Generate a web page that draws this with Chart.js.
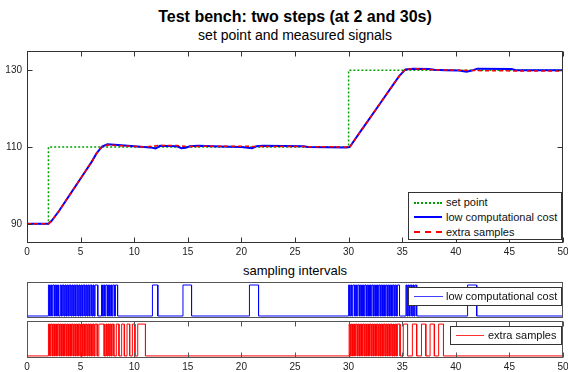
<!DOCTYPE html>
<html>
<head>
<meta charset="utf-8">
<script src="https://cdn.jsdelivr.net/npm/chart.js@4/dist/chart.umd.min.js"></script>
<style>
  body { margin: 0; background: #fff; font-family: "Liberation Sans", Arial, sans-serif; }
  #wrap { position: relative; width: 568px; height: 372px; overflow: hidden; }
  canvas { position: absolute; left: 0; }
  .txt { position: absolute; white-space: nowrap; color: #000; transform: translate(-50%, -50%); }
  .legend { position: absolute; background: #fff; border: 1px solid #333; z-index: 5; }
  .row { position: absolute; left: 0; width: 100%; height: 14px; font-size: 11px; line-height: 14px; white-space: nowrap; }
  .row span { position: absolute; left: 37px; white-space: nowrap; color: #111; }
  .sample { position: absolute; height: 0; }
  .thin { position: absolute; height: 1px; }
</style>
</head>
<body>
<div id="wrap">
  <div class="txt" style="left:295px;top:17px;font-size:16px;font-weight:bold;">Test bench: two steps (at 2 and 30s)</div>
  <div class="txt" style="left:295px;top:35px;font-size:14px;">set point and measured signals</div>
  <div class="txt" style="left:295px;top:270px;font-size:13px;">sampling intervals</div>

  <canvas id="mainChart" width="568" height="220" style="top:40px"></canvas>
  <canvas id="lowChart" width="568" height="46" style="top:276px"></canvas>
  <canvas id="extraChart" width="568" height="56" style="top:316px"></canvas>

  <div class="legend" style="left:408px;top:192px;width:152px;height:46px;">
    <div class="row" style="top:2px"><div class="sample" style="left:5px;top:7px;width:28px;border-top:2px dotted #00a000;"></div><span>set point</span></div>
    <div class="row" style="top:17px"><div class="sample" style="left:5px;top:6px;width:28px;border-top:2px solid #0000ff;"></div><span>low computational cost</span></div>
    <div class="row" style="top:32px"><div class="sample" style="left:5px;top:6px;width:28px;border-top:2px dashed #ff0000;"></div><span>extra samples</span></div>
  </div>
  <div class="legend" style="left:408px;top:287px;width:152px;height:17px;">
    <div class="row" style="top:1px"><div class="thin" style="left:5px;top:7px;width:29px;background:#4040ff;"></div><span>low computational cost</span></div>
  </div>
  <div class="legend" style="left:450px;top:326px;width:110px;height:17px;">
    <div class="row" style="top:1px"><div class="thin" style="left:5px;top:7px;width:28px;background:#ff3030;"></div><span>extra samples</span></div>
  </div>
</div>

<script>
// axis ticks
const xTicks = [0, 5, 10, 15, 20, 25, 30, 35, 40, 45, 50];
const yTicks = [90, 110, 130];

// set point
const setTimes  = [0, 2, 2, 30, 30, 50];
const setValues = [90, 90, 110, 110, 130, 130];

// measured signal, low computational cost
const lowTimes  = [0, 2, 2.3, 3, 4, 5, 6, 6.5, 7, 7.5, 8.5, 10, 11.5, 12, 12.4, 14, 14.4, 14.8, 15.2, 16, 18, 20, 21, 21.4, 22, 25.8, 26.2, 29.8, 30.1, 31, 32, 33, 34, 34.7, 35.3, 36, 37.5, 38, 39, 40.3, 41, 41.5, 42, 45.2, 45.6, 50];
const lowValues = [90, 90, 90.8, 93.4, 97.6, 101.8, 106.0, 108.4, 110.1, 110.7, 110.5, 110.2, 109.9, 109.6, 110.3, 110.2, 109.7, 109.8, 110.2, 110.3, 110.1, 110.0, 109.7, 110.2, 110.3, 110.2, 110.0, 109.9, 110.0, 113.6, 117.6, 121.6, 125.6, 128.4, 130.2, 130.4, 130.3, 130.1, 130.0, 129.9, 129.6, 129.9, 130.4, 130.3, 130.0, 130.0];

// measured signal, extra samples
const extraTimes  = [0, 2, 2.3, 3, 4, 5, 6, 6.5, 7, 7.5, 9, 11, 12.2, 14, 15, 17, 20, 22, 26, 29.8, 30.1, 31, 32, 33, 34, 34.7, 35.3, 36, 38, 40, 42, 46, 50];
const extraValues = [90, 90, 90.8, 93.4, 97.6, 101.8, 106.0, 108.4, 110.1, 110.5, 110.3, 110.0, 110.4, 110.4, 110.1, 110.2, 110.2, 110.1, 110.1, 110.0, 110.0, 113.6, 117.6, 121.6, 125.6, 128.4, 130.2, 130.4, 130.1, 130.0, 129.9, 129.8, 129.8];

// sampling intervals: high periods [start, end]
const lowHigh = [
  [2.00, 2.10], [2.20, 2.30], [2.40, 2.55], [2.65, 2.75], [2.85, 2.95], [3.10, 3.20], [3.30, 3.45],
  [3.55, 3.65], [3.75, 3.85], [3.95, 4.10], [4.20, 4.30], [4.40, 4.50], [4.60, 4.75], [4.85, 4.95],
  [5.05, 5.15], [5.25, 5.40], [5.50, 5.60], [5.70, 5.80], [5.90, 6.05], [6.15, 6.25], [6.35, 6.60],
  [6.95, 7.05], [7.15, 7.25], [7.35, 7.50], [7.60, 7.70], [7.80, 7.90], [8.00, 8.15], [8.25, 8.45],
  [11.70, 12.20], [14.55, 15.35], [20.75, 21.60],
  [30.00, 30.10], [30.20, 30.30], [30.40, 30.55], [30.65, 30.75], [30.85, 31.00], [31.10, 31.20],
  [31.30, 31.40], [31.50, 31.65], [31.75, 31.85], [31.95, 32.05], [32.15, 32.30], [32.40, 32.50],
  [32.60, 32.70], [32.80, 32.95], [33.05, 33.15], [33.25, 33.35], [33.45, 33.60], [33.70, 33.80],
  [33.90, 34.00], [34.10, 34.25], [34.35, 34.45], [34.55, 34.75],
  [35.35, 35.45], [35.55, 35.65], [35.75, 35.90], [36.00, 36.10], [36.20, 36.35],
  [41.10, 41.95]
];
const extraHigh = [
  [2.00, 2.10], [2.20, 2.35], [2.45, 2.55], [2.65, 2.75], [2.85, 3.00], [3.10, 3.20], [3.30, 3.40],
  [3.50, 3.65], [3.75, 3.85], [3.95, 4.05], [4.15, 4.30], [4.40, 4.50], [4.60, 4.70], [4.80, 4.95],
  [5.05, 5.15], [5.25, 5.35], [5.45, 5.60], [5.70, 5.80], [5.90, 6.00], [6.10, 6.25], [6.35, 6.55],
  [6.70, 7.20], [7.35, 7.45], [7.55, 7.65], [7.75, 7.85], [7.95, 8.10],
  [8.33, 8.58], [8.83, 9.08], [9.33, 9.58], [9.83, 10.07], [10.33, 11.05],
  [30.05, 30.15], [30.25, 30.35], [30.45, 30.55], [30.65, 30.80], [30.90, 31.00], [31.10, 31.20],
  [31.30, 31.45], [31.55, 31.65], [31.75, 31.85], [31.95, 32.10], [32.20, 32.30], [32.40, 32.50],
  [32.60, 32.75], [32.85, 32.95], [33.05, 33.15], [33.25, 33.40], [33.50, 33.60], [33.70, 33.80],
  [33.90, 34.05], [34.15, 34.25], [34.35, 34.45], [34.55, 34.80],
  [35.10, 35.50], [35.95, 36.35], [36.80, 37.20], [37.60, 38.00], [38.40, 38.85]
];

Chart.defaults.font.family = '"Liberation Sans", Arial, sans-serif';
Chart.defaults.color = '#222';
Chart.defaults.animation = false;

const toXY = (xs, ys) => xs.map((x, i) => ({ x: x, y: ys[i] }));

function pulseTrace(intervals) {
  const pts = [{ x: 0, y: 0 }];
  intervals.forEach(([s, e]) => {
    pts.push({ x: s, y: 0 }, { x: s, y: 1 }, { x: e, y: 1 }, { x: e, y: 0 });
  });
  pts.push({ x: 50, y: 0 });
  return pts;
}

// box round the axes plus inward ticks, matlab style
const framePlugin = {
  id: 'frame',
  afterDatasetsDraw(chart, args, opts) {
    const { ctx, chartArea: a } = chart;
    const L = Math.round(a.left) + 0.5, R = Math.round(a.right) - 0.5;
    const T = Math.round(a.top) + 0.5, B = Math.round(a.bottom) - 0.5;
    ctx.save();
    ctx.strokeStyle = opts.color || '#333';
    ctx.lineWidth = 1;
    ctx.strokeRect(L, T, R - L, B - T);
    const len = 5;
    ctx.beginPath();
    if (opts.xTicks) {
      const sx = chart.scales.x;
      sx.ticks.forEach(t => {
        const px = Math.round(sx.getPixelForValue(t.value)) + 0.5;
        ctx.moveTo(px, B); ctx.lineTo(px, B - len);
        ctx.moveTo(px, T); ctx.lineTo(px, T + len);
      });
    }
    if (opts.yTicks) {
      const sy = chart.scales.y;
      sy.ticks.forEach(t => {
        const py = Math.round(sy.getPixelForValue(t.value)) + 0.5;
        ctx.moveTo(L, py); ctx.lineTo(L + len, py);
        ctx.moveTo(R, py); ctx.lineTo(R - len, py);
      });
    }
    ctx.stroke();
    ctx.restore();
  }
};

function xAxis(showLabels, height) {
  return {
    type: 'linear', min: 0, max: 50,
    display: showLabels,
    grid: { display: false, drawTicks: false },
    border: { display: false },
    ticks: { font: { size: 10 }, padding: 3, maxRotation: 0, autoSkip: false },
    afterBuildTicks: s => { s.ticks = xTicks.map(v => ({ value: v })); },
    afterFit: s => {
      if (height) s.height = height;
      s.paddingLeft = 0;
      s.paddingRight = 0;
    }
  };
}

// main plot
new Chart(document.getElementById('mainChart'), {
  type: 'line',
  data: {
    datasets: [
      { label: 'set point', data: toXY(setTimes, setValues), borderColor: '#00a000', borderWidth: 1.5, borderDash: [2, 2], order: 2 },
      { label: 'low computational cost', data: toXY(lowTimes, lowValues), borderColor: '#0000ff', borderWidth: 2, order: 1 },
      { label: 'extra samples', data: toXY(extraTimes, extraValues), borderColor: '#ff0000', borderWidth: 1.5, borderDash: [4, 3], order: 0 }
    ]
  },
  options: {
    responsive: false,
    layout: { padding: { top: 9, right: 5, left: 0, bottom: 0 } },
    elements: { point: { radius: 0 }, line: { tension: 0 } },
    scales: {
      x: xAxis(true, 17),
      y: {
        type: 'linear', min: 85, max: 135,
        grid: { display: false, drawTicks: false },
        border: { display: false },
        ticks: { font: { size: 10 }, padding: 5 },
        afterBuildTicks: s => { s.ticks = yTicks.map(v => ({ value: v })); },
        afterFit: s => { s.width = 27; }
      }
    },
    plugins: {
      legend: { display: false },
      tooltip: { enabled: false },
      frame: { xTicks: true, yTicks: true, color: '#333' }
    }
  },
  plugins: [framePlugin]
});

function pulseChart(id, intervals, color, showX, padding) {
  return new Chart(document.getElementById(id), {
    type: 'line',
    data: { datasets: [{ data: pulseTrace(intervals), borderColor: color, borderWidth: 1 }] },
    options: {
      responsive: false,
      layout: { padding: padding },
      elements: { point: { radius: 0 }, line: { tension: 0 } },
      scales: {
        x: xAxis(showX, showX ? 14 : 0),
        y: { type: 'linear', min: -0.065, max: 1.097, display: false }
      },
      plugins: {
        legend: { display: false },
        tooltip: { enabled: false },
        frame: { xTicks: showX, yTicks: false, color: '#555' }
      }
    },
    plugins: [framePlugin]
  });
}

pulseChart('lowChart', lowHigh, '#0000ff', false, { top: 6, bottom: 4, left: 27, right: 5 });
pulseChart('extraChart', extraHigh, '#ff0000', true, { top: 5, bottom: 0, left: 27, right: 5 });
</script>
</body>
</html>
